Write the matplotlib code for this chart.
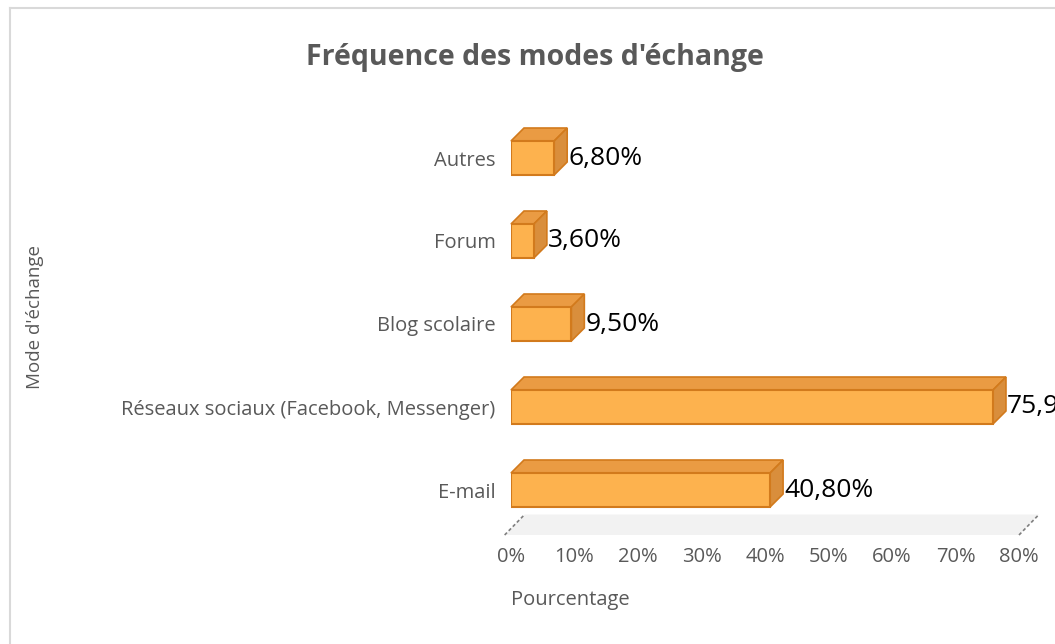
import matplotlib
matplotlib.use("Agg")
import matplotlib.pyplot as plt
from matplotlib.patches import Polygon
from matplotlib.lines import Line2D

categories = ["E-mail", "Réseaux sociaux (Facebook, Messenger)", "Blog scolaire", "Forum", "Autres"]
values = [40.8, 75.9, 9.5, 3.6, 6.8]
value_labels = ["40,80%", "75,90%", "9,50%", "3,60%", "6,80%"]
xticks = [0, 10, 20, 30, 40, 50, 60, 70, 80]
xtick_labels = ["0%", "10%", "20%", "30%", "40%", "50%", "60%", "70%", "80%"]
title = "Fréquence des modes d'échange"
xlabel = "Pourcentage"
ylabel = "Mode d'échange"

W, H = 1055, 644
plt.rcParams['font.family'] = ['Open Sans', 'DejaVu Sans']
fig = plt.figure(figsize=(W / 100, H / 100), dpi=100)

# axes in pixel coords
ax_l, ax_r = 511, 1019
ax_top, ax_bot = 116.5, 531.5
ax = fig.add_axes([ax_l / W, 1 - ax_bot / H, (ax_r - ax_l) / W, (ax_bot - ax_top) / H])
ax.set_xlim(0, 80)
ax.set_ylim(-0.5, 4.5)

px_x = 80 / (ax_r - ax_l)
px_y = 5 / (ax_bot - ax_top)
DX, DY = 13 * px_x, 13 * px_y
h = 34 * px_y

front_c = '#FDB24E'
top_c = '#EA9B43'
side_c = '#D98E3C'
edge_c = '#D27A1C'

# floor
fy0 = -0.5 - 3.5 * px_y
fy1 = -0.5 + 17 * px_y
fdx = 20 * px_x
x0 = -1.0
floor = Polygon([(x0, fy0), (80, fy0), (80 + fdx, fy1), (x0 + fdx, fy1)],
                closed=True, facecolor='#F2F2F2', edgecolor='none', clip_on=False, zorder=0)
ax.add_patch(floor)
for xx in (x0, 80):
    ax.add_line(Line2D([xx, xx + fdx], [fy0, fy1], color='#7F7F7F', lw=1.2,
                       linestyle=(0, (2, 1.5)), clip_on=False, zorder=1))

ys = list(range(len(categories)))
ax.barh(ys, values, height=h, color=front_c, edgecolor=edge_c, linewidth=1.5, zorder=3)
for y, v, lab in zip(ys, values, value_labels):
    yt = y + h / 2
    yb = y - h / 2
    top = Polygon([(0, yt), (v, yt), (v + DX, yt + DY), (DX, yt + DY)], closed=True,
                  facecolor=top_c, edgecolor=edge_c, linewidth=1.2, clip_on=False, zorder=2)
    side = Polygon([(v, yb), (v + DX, yb + DY), (v + DX, yt + DY), (v, yt)], closed=True,
                   facecolor=side_c, edgecolor=edge_c, linewidth=1.2, clip_on=False, zorder=2)
    ax.add_patch(top)
    ax.add_patch(side)
    ax.text(v + DX + 1 * px_x, y, lab, ha='left', va='center', fontsize=19,
            color='black', clip_on=False, zorder=5)

ax.set_yticks(ys)
ax.set_yticklabels(categories)
ax.set_xticks(xticks)
ax.set_xticklabels(xtick_labels)
ax.tick_params(axis='y', length=0, pad=11, labelsize=14.5, labelcolor='#595959')
ax.tick_params(axis='x', length=0, pad=11, labelsize=14.5, labelcolor='#595959')
for s in ax.spines.values():
    s.set_visible(False)
ax.set_facecolor('none')

fig.text(535 / W, 1 - 57 / H, title, ha='center', va='center', fontsize=20.5,
         fontweight='bold', color='#595959')
fig.text(570 / W, 1 - 600 / H, xlabel, ha='center', va='center', fontsize=14.5, color='#595959')
fig.text(35 / W, 1 - 317 / H, ylabel, ha='center', va='center', rotation=90,
         fontsize=13.5, color='#595959')

# chart border
fig.add_artist(Line2D([10 / W, 1.0], [1 - 8 / H, 1 - 8 / H], transform=fig.transFigure,
                      color='#D9D9D9', lw=1.5))
fig.add_artist(Line2D([10 / W, 10 / W], [0, 1 - 8 / H], transform=fig.transFigure,
                      color='#D9D9D9', lw=1.5))

fig.savefig("out.png", dpi=100)
